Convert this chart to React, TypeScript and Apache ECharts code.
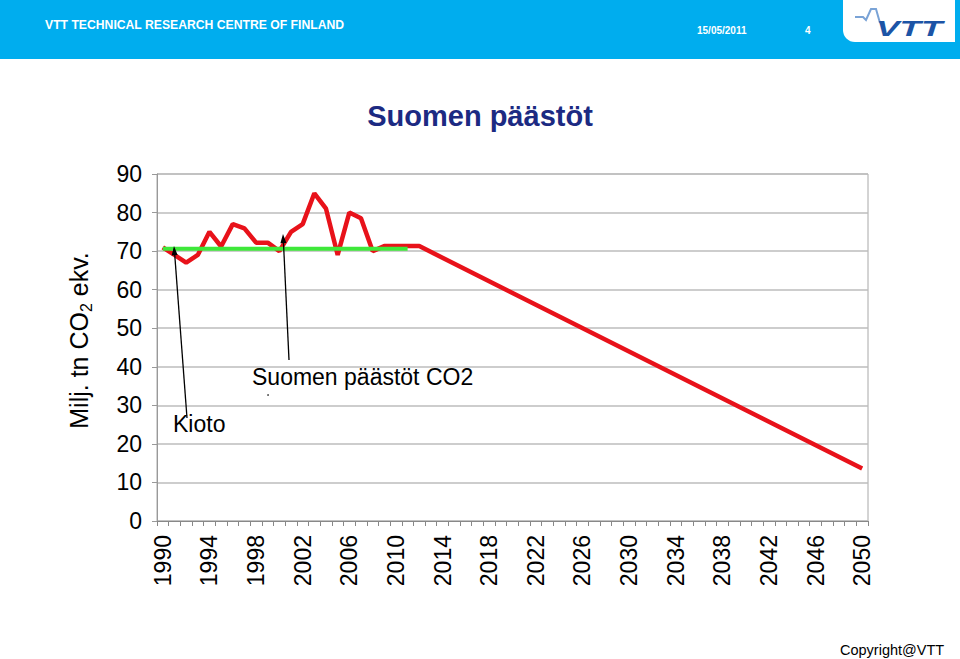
import React, { useEffect, useRef } from "react";
import * as echarts from "echarts";

const years: string[] = Array.from({ length: 61 }, (_, i) => String(1990 + i));

const emissionsHist: number[] = [
  71, 69, 67, 69, 75, 71.2, 77, 75.9, 72.2, 72.2, 70, 75, 77, 85, 81, 69, 80, 78.5, 70, 71.3, 71.3, 71.3, 71.3,
];
const emissionsTarget2050 = 13.6;
// Kyoto target level 1990-2011
const kyotoLevel: number[] = Array(22).fill(70.6);

const yTicks = { min: 0, max: 90, interval: 10 };

const emissions: (number | null)[] = years.map((y, i) => {
  if (i < emissionsHist.length) return emissionsHist[i];
  if (y === "2050") return emissionsTarget2050;
  return null;
});
const kyoto: (number | null)[] = years.map((_, i) => (i < kyotoLevel.length ? kyotoLevel[i] : null));

const FONT = "'Liberation Sans', Arial, Helvetica, sans-serif";

export default function App() {
  const ref = useRef<HTMLDivElement>(null);
  useEffect(() => {
    if (!ref.current) return;
    const chart = echarts.init(ref.current, null, { renderer: "svg", width: 960, height: 659 });
    chart.setOption({
      animation: false,
      backgroundColor: "#ffffff",
      textStyle: { fontFamily: FONT },
      title: {
        text: "Suomen päästöt",
        left: "center",
        top: 94,
        textStyle: { fontFamily: FONT, fontSize: 29, fontWeight: "bold", color: "#1c2a82", lineHeight: 34 },
      },
      grid: { left: 157, right: 92, top: 174, bottom: 138, show: true, borderColor: "#a8a8a8", borderWidth: 1 },
      xAxis: {
        type: "category",
        data: years,
        boundaryGap: true,
        axisLine: { show: true, lineStyle: { color: "#888888", width: 1 } },
        axisTick: { show: true, interval: 0, length: 5, lineStyle: { color: "#888888" } },
        axisLabel: { interval: 3, rotate: 90, fontSize: 23, color: "#000000", margin: 14, fontFamily: FONT },
        splitLine: { show: false },
      },
      yAxis: {
        type: "value",
        min: yTicks.min,
        max: yTicks.max,
        interval: yTicks.interval,
        name: "{a|Milj. tn CO}{s|2}{a| ekv.}",
        nameLocation: "middle",
        nameGap: 63,
        nameTextStyle: {
          padding: [0, 0, 0, 14],
          rich: {
            a: { fontSize: 25, fontFamily: FONT, color: "#000000", lineHeight: 30 },
            s: { fontSize: 16, fontFamily: FONT, color: "#000000", lineHeight: 16, verticalAlign: "bottom" },
          },
        },
        axisLine: { show: true, lineStyle: { color: "#999999", width: 1 } },
        axisTick: { show: true, length: 5, lineStyle: { color: "#999999" } },
        axisLabel: { fontSize: 23, color: "#000000", margin: 15, fontFamily: FONT },
        splitLine: { show: true, lineStyle: { color: "#bdbdbd", width: 1.5 } },
      },
      series: [
        {
          name: "Suomen päästöt CO2",
          type: "line",
          data: emissions,
          connectNulls: true,
          showSymbol: false,
          symbol: "none",
          lineStyle: { color: "#e8121a", width: 4.5 },
          itemStyle: { color: "#e8121a" },
          z: 2,
        },
        {
          name: "Kioto",
          type: "line",
          data: kyoto,
          showSymbol: false,
          symbol: "none",
          lineStyle: { color: "#3ee83a", width: 4 },
          itemStyle: { color: "#3ee83a" },
          z: 3,
        },
      ],
      graphic: [
        // header banner
        { type: "rect", shape: { x: 0, y: 0, width: 960, height: 59 }, style: { fill: "#00adee" }, z: 1 },
        { type: "rect", shape: { x: 843, y: -12, width: 112, height: 54, r: [0, 0, 0, 12] }, style: { fill: "#ffffff" }, z: 2 },
        {
          type: "text",
          x: 45,
          y: 25,
          style: { text: "VTT TECHNICAL RESEARCH CENTRE OF FINLAND", fill: "#ffffff", font: `bold 12.2px ${FONT}`, verticalAlign: "middle" },
          z: 3,
        },
        {
          type: "text",
          x: 697,
          y: 30,
          style: { text: "15/05/2011", fill: "#ffffff", font: `bold 10px ${FONT}`, verticalAlign: "middle" },
          z: 3,
        },
        {
          type: "text",
          x: 805,
          y: 30,
          style: { text: "4", fill: "#ffffff", font: `bold 10px ${FONT}`, verticalAlign: "middle" },
          z: 3,
        },
        {
          type: "polyline",
          shape: { points: [[855, 17], [863, 17], [866, 20], [871, 9], [876, 9], [880, 23]] },
          style: { stroke: "#7aa3d6", lineWidth: 2, fill: null },
          z: 3,
        },
        {
          type: "text",
          x: 876,
          y: 28,
          scaleX: 1.6,
          style: { text: "VTT", fill: "#1c54a6", font: `italic 900 22px ${FONT}`, verticalAlign: "middle" },
          z: 3,
        },
        // annotations
        {
          type: "text",
          x: 173,
          y: 424,
          style: { text: "Kioto", fill: "#000000", font: `23px ${FONT}`, verticalAlign: "middle" },
          z: 10,
        },
        {
          type: "text",
          x: 252,
          y: 377,
          style: { text: "Suomen päästöt CO2", fill: "#000000", font: `23px ${FONT}`, verticalAlign: "middle" },
          z: 10,
        },
        { type: "circle", shape: { cx: 268, cy: 395, r: 0.8 }, style: { fill: "#333333" }, z: 10 },
        { type: "line", shape: { x1: 187, y1: 418, x2: 174.6, y2: 253 }, style: { stroke: "#000000", lineWidth: 1.3 }, z: 10 },
        { type: "polygon", shape: { points: [[174, 246], [177.6, 255], [171.6, 255.4]] }, style: { fill: "#000000" }, z: 10 },
        { type: "line", shape: { x1: 289, y1: 360, x2: 283.4, y2: 241 }, style: { stroke: "#000000", lineWidth: 1.3 }, z: 10 },
        { type: "polygon", shape: { points: [[283, 234], [286.4, 243], [280.4, 243.2]] }, style: { fill: "#000000" }, z: 10 },
        {
          type: "text",
          x: 840,
          y: 650,
          style: { text: "Copyright@VTT", fill: "#000000", font: `14.5px ${FONT}`, verticalAlign: "middle" },
          z: 10,
        },
      ],
    });
    return () => chart.dispose();
  }, []);
  return <div ref={ref} style={{ position: "absolute", left: 0, top: 0, width: 960, height: 659 }} />;
}
